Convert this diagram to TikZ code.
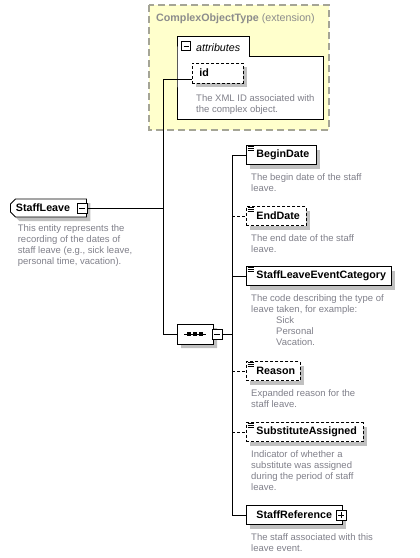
\documentclass[tikz,border=0pt]{standalone}
\usepackage{fontspec}
\setmainfont{Liberation Sans}
\usepackage{xcolor}
\definecolor{xsdyellow}{RGB}{255,255,204}
\definecolor{xsdframe}{RGB}{165,165,150}
\definecolor{xsdtitle}{RGB}{140,140,140}
\definecolor{xsddesc}{RGB}{128,128,138}
\definecolor{xsdshadow}{RGB}{192,192,192}
\usetikzlibrary{positioning, shapes.misc, shadows}

\tikzset{
  boxshadow/.style={drop shadow={shadow xshift=4pt, shadow yshift=-4pt, fill=xsdshadow, opacity=1}},
  elembase/.style={draw, fill=white, line width=0.9pt, boxshadow, anchor=west, inner xsep=0pt, inner ysep=0pt,
    minimum height=19pt, text width=#1, align=left, font=\fontsize{10.7}{12}\selectfont\bfseries},
  elem/.style={elembase=#1, execute at begin node=\hspace*{10pt}},
  optelem/.style={elem=#1, dash pattern=on 3pt off 2pt},
  desc/.style={font=\fontsize{9.5}{11}\selectfont, text=xsddesc, align=left, inner sep=0pt},
  togglebox/.style={draw, fill=white, line width=0.9pt, minimum size=10pt, inner sep=0pt},
  minusbox/.style={togglebox, path picture={
    \draw ([xshift=2pt]path picture bounding box.west) -- ([xshift=-2pt]path picture bounding box.east);}},
  plusbox/.style={togglebox, path picture={
    \draw ([xshift=2pt]path picture bounding box.west) -- ([xshift=-2pt]path picture bounding box.east);
    \draw ([yshift=2pt]path picture bounding box.south) -- ([yshift=-2pt]path picture bounding box.north);}},
  conn/.style={line width=1pt},
  optconn/.style={conn, dash pattern=on 3pt off 2pt},
}

\begin{document}
\begin{tikzpicture}[x=1pt, y=-1pt]
  \useasboundingbox (0,0) rectangle (420,558);

  % --- Extension base type ---
  \draw[xsdframe, line width=1.3pt, dash pattern=on 7pt off 4pt, fill=xsdyellow] (149,5) rectangle (329,130);
  \node[anchor=base west, inner sep=0pt, text=xsdtitle, font=\fontsize{10.7}{12}\selectfont] (exttitle) at (156,21)
    {\textbf{ComplexObjectType} (extension)};
  % Attributes group
  \draw[fill=white, line width=1pt] (177,56) -- (177,36) -- (249,36) -- (249,56) -- (323,56) -- (323,119) -- (177,119) -- cycle;
  \node[minusbox, minimum size=9pt] (attrtoggle) at (186,46) {};
  \node[anchor=base west, inner sep=0pt, font=\fontsize{10.7}{12}\selectfont\itshape] (attrtitle) at (196,51) {attributes};
  \node[elembase=51pt, dash pattern=on 3pt off 2pt, minimum height=20pt, execute at begin node=\hspace*{7pt}] (id) at (192,73) {id};
  \node[desc, below right=11pt and 4pt of id.south west] (iddesc) {The XML ID associated with\\the complex object.};

  % --- Root element ---
  \node[elembase=71pt, chamfered rectangle, chamfered rectangle corners={north west, south west},
    chamfered rectangle sep=2.5pt, minimum height=18pt, execute at begin node=\hspace*{3pt}] (staffleave) at (10,208) {StaffLeave};
  \node[minusbox] (leavetoggle) at (82,208) {};
  \node[desc, below right=10pt and 5pt of staffleave.south west] (leavedesc)
    {This entity represents the\\recording of the dates of\\staff leave (e.g., sick leave,\\personal time, vacation).};

  % --- Sequence compositor ---
  \node[draw, fill=white, line width=0.9pt, boxshadow, chamfered rectangle, chamfered rectangle sep=4pt,
    inner sep=0pt, minimum width=36pt, minimum height=20pt] (seq) at (195,334) {};
  \draw[line width=0.8pt] ([xshift=-11pt]seq.center) -- ([xshift=11pt]seq.center);
  \foreach \dx in {-6,0,6}
    \fill ([xshift=\dx pt]seq.center) +(-1.7,-1.7) rectangle +(1.7,1.7);
  \node[minusbox] (seqtoggle) at (217,334) {};

  % --- Child elements ---
  \node[elem=70pt] (begindate) at (246,155) {BeginDate};
  \node[optelem=60pt] (enddate) at (246,216) {EndDate};
  \node[elem=145pt] (category) at (246,276) {StaffLeaveEventCategory};
  \node[optelem=54pt] (reason) at (246,371) {Reason};
  \node[optelem=117pt] (substitute) at (246,432) {SubstituteAssigned};
  \node[elem=96pt] (staffref) at (246,515) {StaffReference};
  \node[plusbox] (reftoggle) at (341,515) {};
  % simple type icons
  \foreach \n in {begindate, enddate, category, reason, substitute}
    \foreach \dy in {1.8,3.8,5.8}
      \draw[line width=0.8pt] ([shift={(1.5pt,-\dy pt)}]\n.north west) -- ++(6,0);

  % Descriptions
  \node[desc, below right=8pt and 5pt of begindate.south west] (begindesc) {The begin date of the staff\\leave.};
  \node[desc, below right=8pt and 5pt of enddate.south west] (enddesc) {The end date of the staff\\leave.};
  \node[desc, below right=8pt and 5pt of category.south west] (categorydesc)
    {The code describing the type of\\leave taken, for example:\\\hspace*{25pt}Sick\\\hspace*{25pt}Personal\\\hspace*{25pt}Vacation.};
  \node[desc, below right=8pt and 5pt of reason.south west] (reasondesc) {Expanded reason for the\\staff leave.};
  \node[desc, below right=8pt and 5pt of substitute.south west] (substitutedesc)
    {Indicator of whether a\\substitute was assigned\\during the period of staff\\leave.};
  \node[desc, below right=8pt and 5pt of staffref.south west] (staffrefdesc) {The staff associated with this\\leave event.};

  % --- Connectors ---
  \coordinate (trunk) at (163,0);
  \coordinate (bus) at (232,0);
  \draw[conn] ([yshift=-6pt]id.west) -- ([yshift=-6pt]id.west -| trunk) -- (seq.west -| trunk) -- (seq.west);
  \draw[conn] (leavetoggle.east) -- (leavetoggle.east -| trunk);
  \draw[conn] (seqtoggle.east) -- (seqtoggle.east -| bus);
  \draw[conn] (begindate.west -| bus) -- (staffref.west -| bus);
  \foreach \n in {begindate, category, staffref}
    \draw[conn] (\n.west -| bus) -- (\n.west);
  \foreach \n in {enddate, reason, substitute}
    \draw[optconn] (\n.west -| bus) -- (\n.west);
\end{tikzpicture}
\end{document}
